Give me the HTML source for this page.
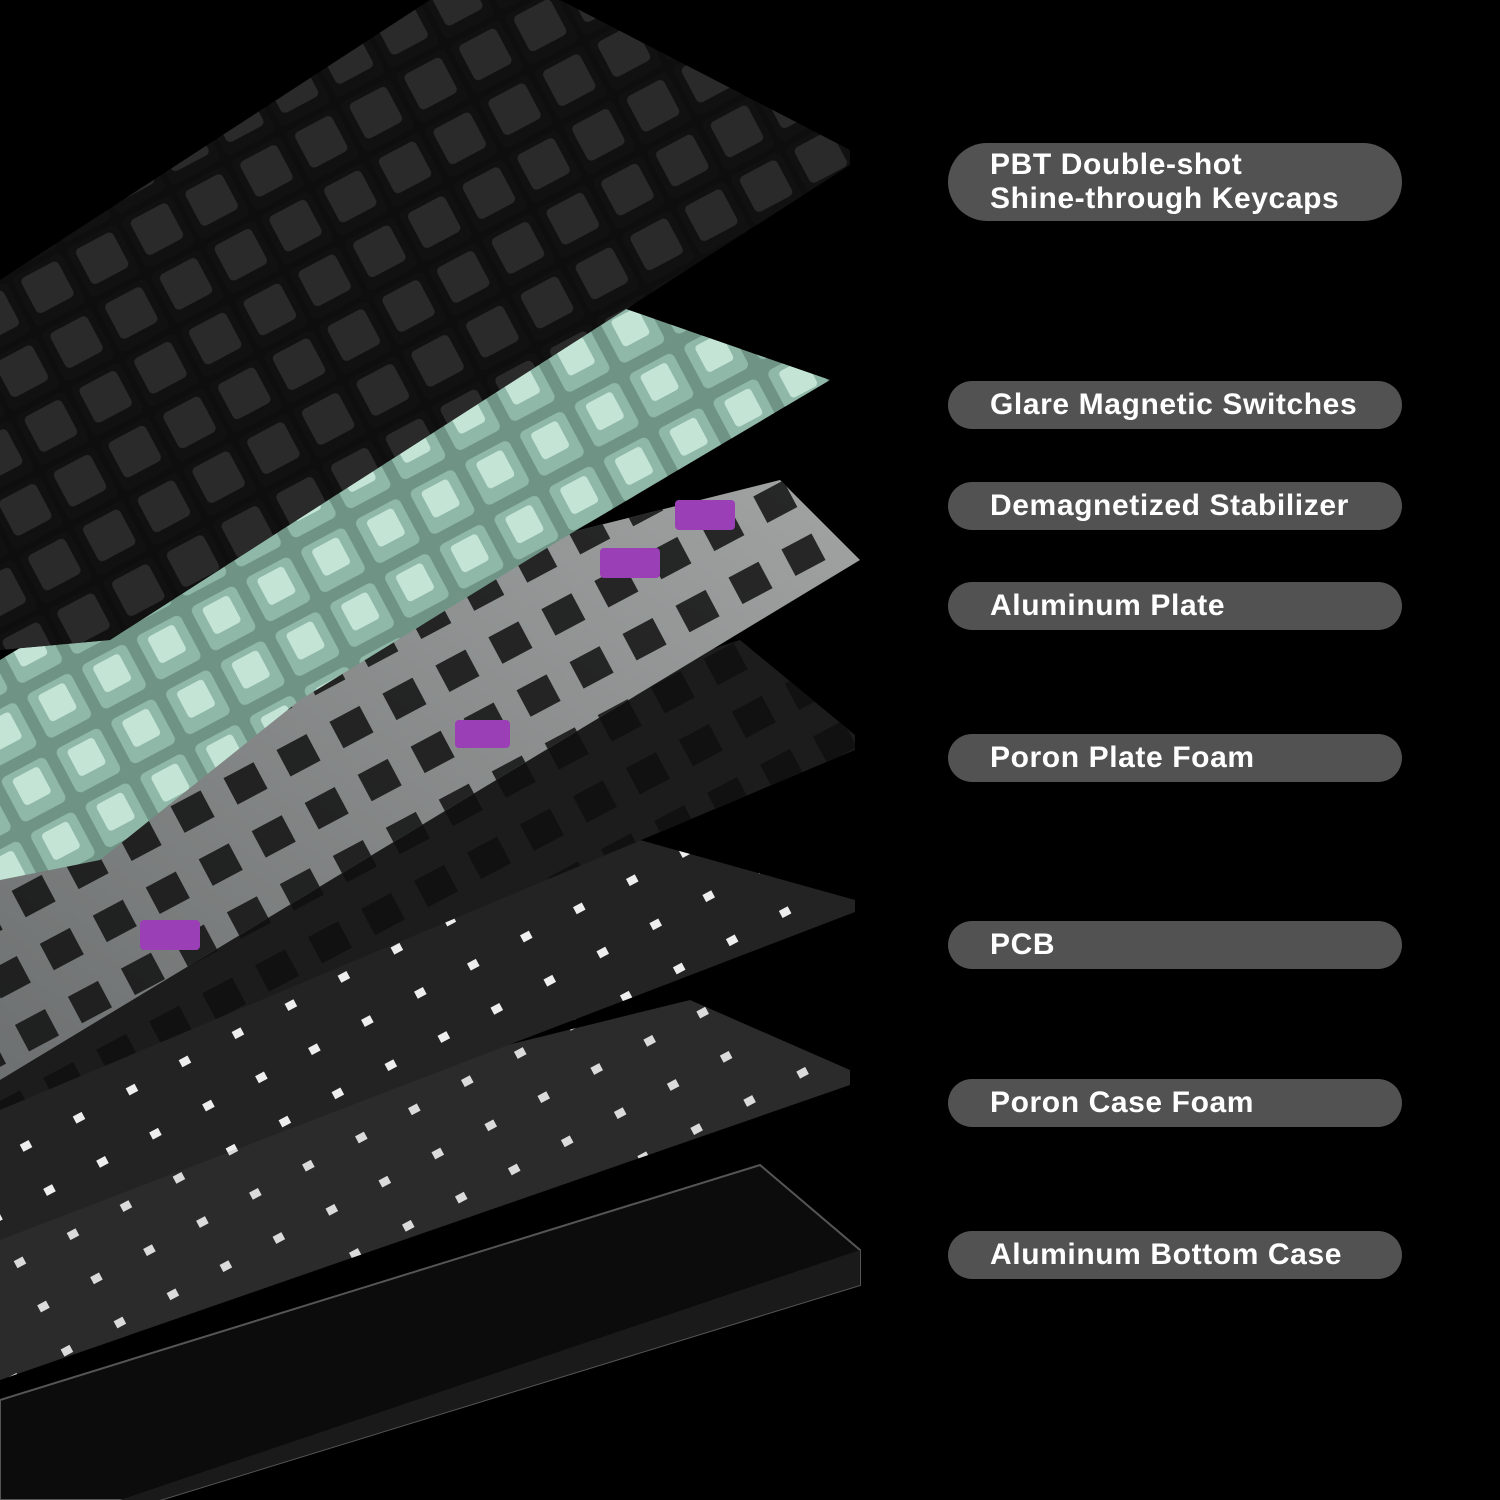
<!DOCTYPE html>
<html><head><style>
html,body{margin:0;padding:0;background:#000;width:1500px;height:1500px;overflow:hidden;position:relative;font-family:"Liberation Sans",sans-serif}
.p{position:absolute;left:948px;width:454px;height:48px;border-radius:24px;background:#525252;color:#fff;font-weight:bold;font-size:30px;letter-spacing:0.6px;box-sizing:border-box;padding-left:42px;line-height:48px;white-space:nowrap}
.p.two{height:78px;line-height:34px;padding-top:5px;border-radius:39px}
svg{position:absolute;left:0;top:0}
</style></head><body>
<svg width="940" height="1500" viewBox="0 0 940 1500">
<defs>
<linearGradient id="pl" x1="0" y1="1" x2="1" y2="0"><stop offset="0" stop-color="#6d7070"/><stop offset="1" stop-color="#a2a4a4"/></linearGradient>
<pattern id="holes" width="60" height="60" patternUnits="userSpaceOnUse" patternTransform="rotate(-28)"><rect x="12" y="12" width="34" height="30" fill="#111"/></pattern>
<pattern id="dots" width="60" height="50" patternUnits="userSpaceOnUse" patternTransform="rotate(-28)"><rect x="20" y="20" width="10" height="8" fill="#eee"/></pattern>
<pattern id="keys" width="62" height="62" patternUnits="userSpaceOnUse" patternTransform="rotate(-28)"><rect x="3" y="3" width="56" height="56" rx="6" fill="#111"/><rect x="10" y="8" width="42" height="40" rx="5" fill="#2a2a2a"/></pattern>
<pattern id="sw" width="62" height="62" patternUnits="userSpaceOnUse" patternTransform="rotate(-28)"><rect x="6" y="6" width="50" height="50" rx="6" fill="#8fb8a8"/><rect x="16" y="12" width="30" height="30" rx="4" fill="#c4e4d6"/></pattern>
</defs>
<polygon points="0,1500 0,1400 760,1165 860,1250 860,1285 160,1500" fill="#0c0c0c" stroke="#555" stroke-width="2"/>
<polygon points="860,1250 860,1285 160,1500 120,1500" fill="#1a1a1a"/>
<polygon points="0,1170 690,1000 850,1070 850,1085 0,1380" fill="#2b2b2b"/>
<polygon points="0,1170 690,1000 850,1070 850,1085 0,1380" fill="url(#dots)" opacity="0.9"/>
<polygon points="0,1010 640,840 855,900 855,912 0,1240" fill="#232323"/>
<polygon points="0,1010 640,840 855,900 855,912 0,1240" fill="url(#dots)"/>
<polygon points="0,880 740,640 855,735 855,750 0,1110" fill="#1c1c1c"/>
<polygon points="0,880 740,640 855,735 855,750 0,1110" fill="url(#holes)"/>
<polygon points="300,600 780,480 860,560 0,1080 0,830" fill="url(#pl)"/>
<polygon points="300,600 780,480 860,560 0,1080 0,830" fill="url(#holes)" opacity="0.85"/>
<polygon points="0,660 600,300 830,380 560,540 300,700 100,860 0,880" fill="#6f9486"/>
<polygon points="0,660 600,300 830,380 560,540 300,700 100,860 0,880" fill="url(#sw)"/>
<g fill="#9a3fb5"><rect x="140" y="920" width="60" height="30" rx="4"/><rect x="455" y="720" width="55" height="28" rx="4"/><rect x="600" y="548" width="60" height="30" rx="4"/><rect x="675" y="500" width="60" height="30" rx="4"/></g>
<polygon points="0,280 430,0 560,0 850,150 850,165 640,300 110,640 0,650" fill="#0e0e0e"/>
<polygon points="0,280 430,0 560,0 850,150 850,165 640,300 110,640 0,650" fill="url(#keys)"/>
</svg>
<div class="p two" style="top:143px">PBT Double-shot<br>Shine-through Keycaps</div>
<div class="p" style="top:381px">Glare Magnetic Switches</div>
<div class="p" style="top:482px">Demagnetized Stabilizer</div>
<div class="p" style="top:582px">Aluminum Plate</div>
<div class="p" style="top:734px">Poron Plate Foam</div>
<div class="p" style="top:921px">PCB</div>
<div class="p" style="top:1079px">Poron Case Foam</div>
<div class="p" style="top:1231px">Aluminum Bottom Case</div>
</body></html>
